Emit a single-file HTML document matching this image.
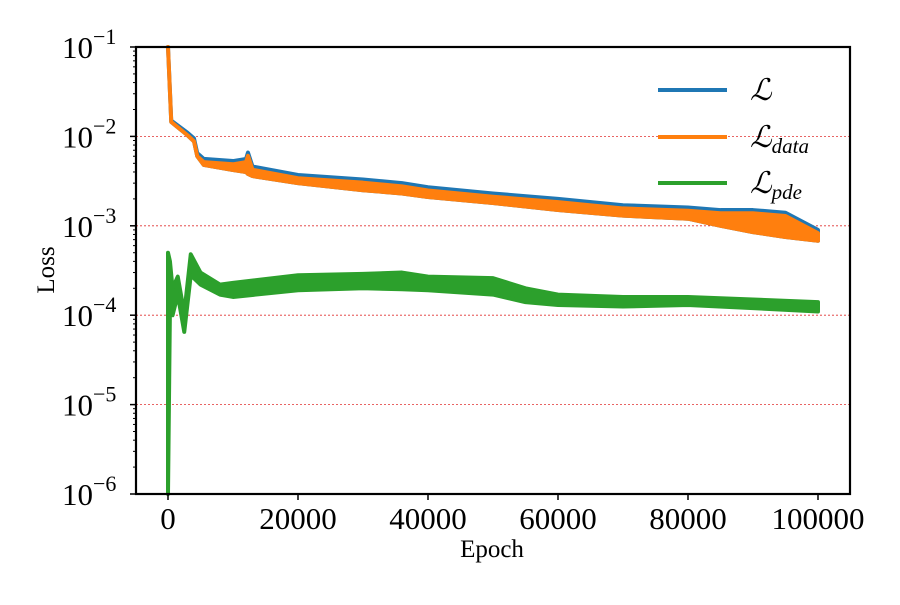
<!DOCTYPE html>
<html><head><meta charset="utf-8"><style>
body{margin:0;background:#fff}
svg text{font-family:"Liberation Serif",serif}
</style></head><body>
<svg id="chart" width="900" height="600" viewBox="0 0 900 600" xmlns="http://www.w3.org/2000/svg">
<rect width="900" height="600" fill="#fff"/>
<g id="grid"></g>
<g id="series"></g>
<rect x="136" y="47" width="714" height="447" fill="none" stroke="#000" stroke-width="2.2"/>
<g id="axes"></g>
<text x="492" y="557" font-size="25" text-anchor="middle">Epoch</text>
<text transform="translate(54,270) rotate(-90)" font-size="25" text-anchor="middle">Loss</text>
<g>
<line x1="658" y1="90" x2="727" y2="90" stroke="#1f77b4" stroke-width="4"/>
<text x="750" y="100" font-size="30" font-style="italic">ℒ</text>
<line x1="658" y1="137" x2="727" y2="137" stroke="#ff7f0e" stroke-width="4"/>
<text x="750" y="147" font-size="30" font-style="italic">ℒ<tspan font-size="21" dy="6">data</tspan></text>
<line x1="658" y1="183" x2="727" y2="183" stroke="#2ca02c" stroke-width="4"/>
<text x="750" y="193" font-size="30" font-style="italic">ℒ<tspan font-size="21" dy="6">pde</tspan></text>
</g>
</svg>
<script>
const xTicks=[0,20000,40000,60000,80000,100000];
const yExps=[-1,-2,-3,-4,-5,-6];
const epochs=[0,500,3000,4000,4500,5500,10000,12000,12300,13000,20000,30000,36000,40000,50000,60000,70000,80000,85000,90000,95000,100000];
const totalUpper=[0.1,0.015,0.011,0.0095,0.0065,0.0056,0.0053,0.0056,0.0066,0.0046,0.0037,0.0033,0.003,0.0027,0.0023,0.002,0.0017,0.0016,0.0015,0.0015,0.0014,0.0009];
const dataLower=[0.1,0.0145,0.0103,0.0088,0.006,0.0048,0.0042,0.004,0.0038,0.0036,0.003,0.0025,0.0023,0.0021,0.0018,0.0015,0.0013,0.0012,0.001,0.00085,0.00075,0.00068];
const pdeEpochs=[0,300,700,1500,2500,3500,5000,8000,10000,20000,30000,36000,40000,50000,55000,60000,70000,80000,90000,100000];
const pdeUpper=[5e-4,4e-4,2e-4,2.7e-4,1.05e-4,4.8e-4,3e-4,2.2e-4,2.3e-4,2.8e-4,2.9e-4,3e-4,2.7e-4,2.6e-4,2e-4,1.7e-4,1.6e-4,1.6e-4,1.5e-4,1.4e-4];
const pdeLower=[1e-6,1.2e-4,1e-4,1.7e-4,6.5e-5,2.8e-4,2.2e-4,1.7e-4,1.6e-4,1.9e-4,2e-4,1.95e-4,1.9e-4,1.7e-4,1.4e-4,1.3e-4,1.25e-4,1.3e-4,1.2e-4,1.1e-4];
const NS="http://www.w3.org/2000/svg";
const X=e=>168+(e/100000)*650;
const Y=v=>Math.min(494,Math.max(47,47+(-1-Math.log10(v))*89.4));
function mk(t,a,p){const el=document.createElementNS(NS,t);for(const k in a)el.setAttribute(k,a[k]);p.appendChild(el);return el;}
const grid=document.getElementById('grid'),axes=document.getElementById('axes'),ser=document.getElementById('series');
yExps.forEach(e=>{const y=Y(Math.pow(10,e));
 if(e>-6&&e<-1){const l=mk('line',{x1:136,x2:850,y1:y,y2:y,stroke:'#e03030','stroke-width':0.8,'stroke-dasharray':'2,2'},grid);
 
 }
 const t=mk('line',{x1:130,x2:136,y1:y,y2:y,stroke:'#000','stroke-width':1.5},axes);
 
 
 for(let m=2;m<10;m++){const ym=Y(m*Math.pow(10,e-1));if(e>-6){mk('line',{x1:133,x2:136,y1:ym,y2:ym,stroke:'#000','stroke-width':1},axes);}}
 const tx=mk('text',{x:62,y:y+11,'font-size':31},axes);
 
 
 tx.innerHTML='10<tspan font-size="22" dy="-14">−'+(-e)+'</tspan>';
});
xTicks.forEach(v=>{const x=X(v);
 const t=mk('line',{x1:x,x2:x,y1:494,y2:500,stroke:'#000','stroke-width':1.5},axes);
 
 
 const tx=mk('text',{x:x,y:529,'font-size':31,'text-anchor':'middle'},axes);
 
 
 tx.textContent=String(v);
});
function band(xs,up,lo,color,name){
 let d='M'+xs.map((e,i)=>X(e)+','+Y(up[i])).join(' L');
 for(let i=xs.length-1;i>=0;i--)d+=' L'+X(xs[i])+','+Y(lo[i]);
 d+=' Z';
 const p=mk('path',{d:d,fill:color,stroke:color,'stroke-width':4,'stroke-linejoin':'round'},ser);
 
 
}
band(epochs,totalUpper,dataLower,'#1f77b4','series-total-loss');
band(epochs,totalUpper.map((v,i)=>Math.max(dataLower[i],v*0.92)),dataLower,'#ff7f0e','series-data-loss');
band(pdeEpochs,pdeUpper,pdeLower,'#2ca02c','series-pde-loss');
</script>
</body></html>
